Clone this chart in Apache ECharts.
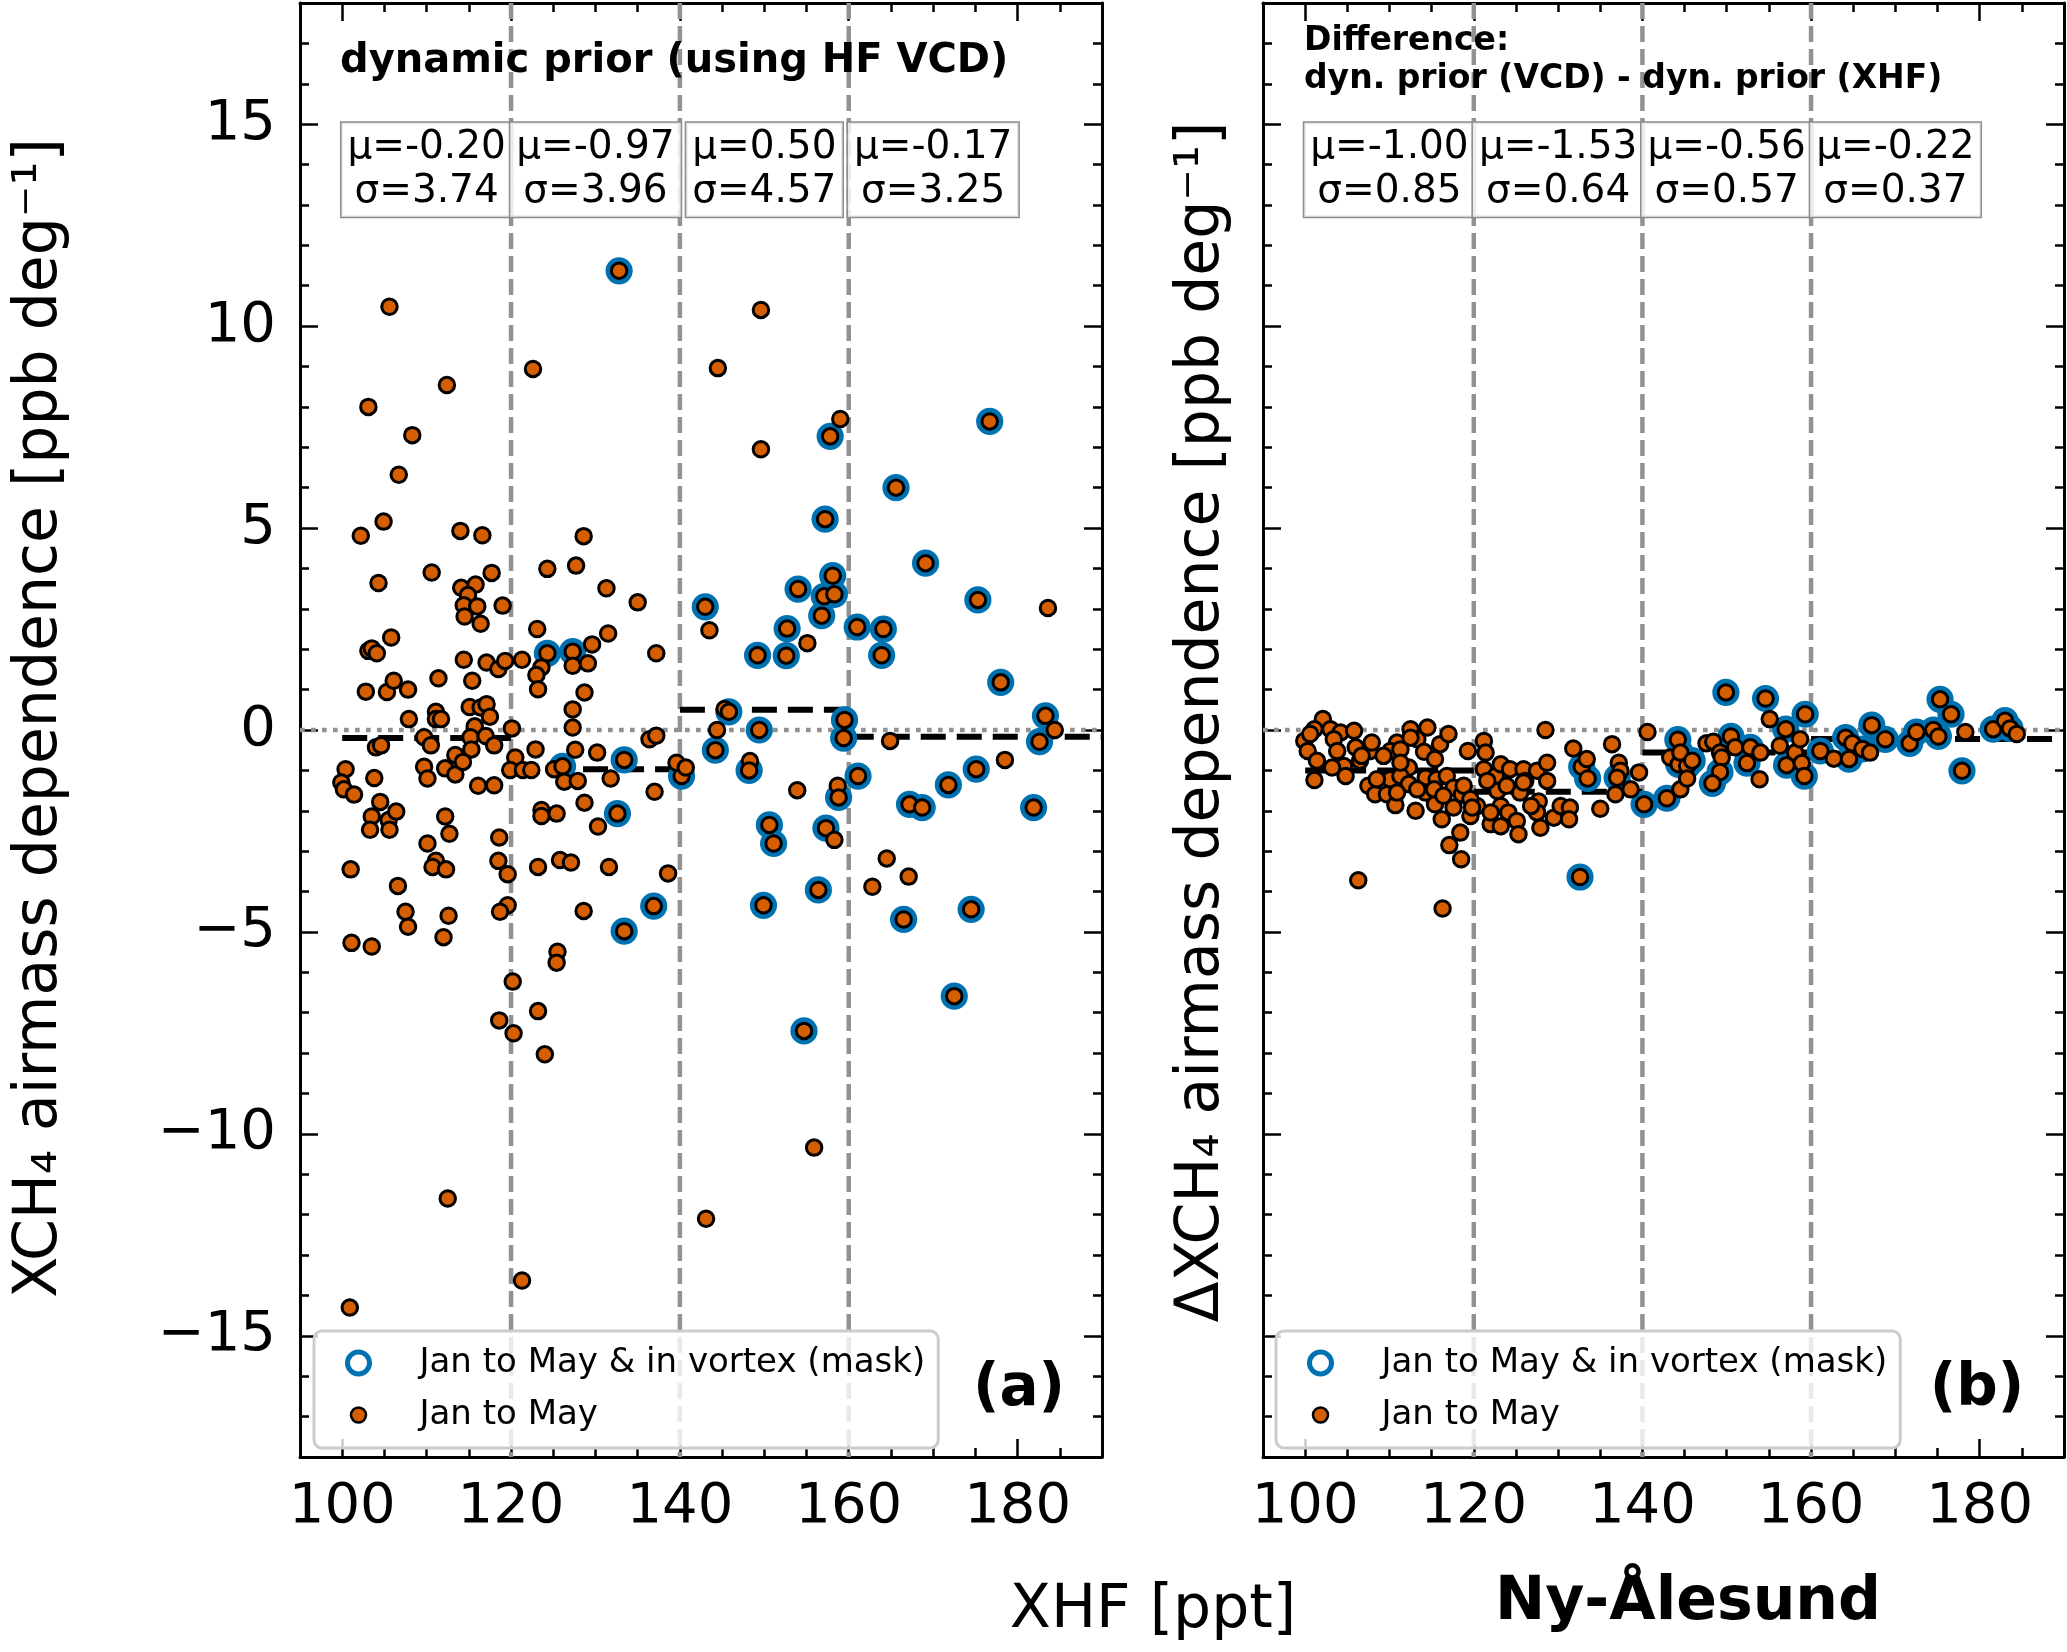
<!DOCTYPE html>
<html><head><meta charset="utf-8">
<script src="https://cdn.jsdelivr.net/npm/echarts@6/dist/echarts.min.js"></script>
<style>html,body{margin:0;padding:0;background:#fff}#c{width:2067px;height:1652px}</style>
</head><body><div id="c"></div>
<script>
// ---------------- data ----------------
const xMin = 95, xMax = 190, yMin = -18, yMax = 18;
const xMajorTicks = [100, 120, 140, 160, 180];
const yMajorTicks = [-15, -10, -5, 0, 5, 10, 15];
const binEdges = [100, 120, 140, 160, 190];
const binCenters = [110, 130, 150, 170];
const meanA = [-0.20, -0.97, 0.50, -0.17];
const sigmaA = [3.74, 3.96, 4.57, 3.25];
const meanB = [-1.00, -1.53, -0.56, -0.22];
const sigmaB = [0.85, 0.64, 0.57, 0.37];
const seriesNames = ['Jan to May & in vortex (mask)', 'Jan to May'];

// panel (a): [XHF, airmass dependence, in vortex (1) or not (0)]
const pointsA = [
[105.6,10.48,0],[132.8,11.37,1],[122.6,8.94,0],[112.4,8.54,0],[103.1,8.00,0],[108.3,7.30,0],[106.7,6.32,0],[104.9,5.16,0],[102.2,4.81,0],[114.0,4.93,0],[116.6,4.82,0],[128.6,4.80,0],[144.5,8.96,0],[110.6,3.90,0],[104.3,3.64,0],[117.7,3.89,0],[124.3,3.99,0],[127.7,4.07,0],[114.1,3.52,0],[115.8,3.60,0],[114.9,3.34,0],[114.4,3.09,0],[116.0,3.06,0],[114.5,2.81,0],[116.4,2.63,0],[119.0,3.08,0],[131.3,3.51,0],[135.0,3.16,0],[123.1,2.50,0],[131.5,2.39,0],[129.6,2.12,0],[105.8,2.29,0],[103.1,1.96,0],[103.5,2.02,0],[104.1,1.90,0],[137.2,1.90,0],[124.3,1.90,1],[127.3,1.94,1],
[114.4,1.74,0],[117.1,1.67,0],[118.5,1.51,0],[119.3,1.71,0],[121.3,1.74,0],[123.6,1.55,0],[123.0,1.36,0],[123.2,1.01,0],[127.3,1.59,0],[129.1,1.65,0],[102.8,0.95,0],[105.3,0.94,0],[106.1,1.22,0],[107.8,1.00,0],[111.4,1.28,0],[115.4,1.22,0],[107.9,0.27,0],[111.1,0.45,0],[111.1,0.27,0],[111.7,0.27,0],[115.1,0.57,0],[116.4,0.56,0],[117.1,0.64,0],[117.5,0.33,0],[115.7,0.09,0],[120.1,0.04,0],[115.2,-0.18,0],[115.3,-0.48,0],[117.0,-0.15,0],[118.0,-0.38,0],[109.7,-0.18,0],[110.5,-0.38,0],[104.0,-0.43,0],[104.6,-0.38,0],[122.9,-0.48,0],[127.3,0.06,0],[127.3,0.51,0],[128.7,0.93,0],[127.6,-0.49,0],[130.2,-0.56,0],[136.4,-0.23,0],[137.2,-0.14,0],[133.4,-0.74,1],[140.2,-1.14,1],[139.6,-0.81,0],[140.7,-0.93,0],[120.5,-0.68,0],[119.9,-0.99,0],[121.4,-0.99,0],[122.4,-0.99,0],[125.1,-0.97,0],[126.1,-0.90,1],[126.3,-1.28,0],[127.9,-1.26,0],[131.8,-1.20,0],[137.0,-1.53,0],[128.7,-1.80,0],[132.6,-2.07,1],[130.3,-2.39,0],[123.6,-1.98,0],[123.6,-2.13,0],[125.4,-2.07,0],[118.6,-2.66,0],[118.5,-3.24,0],[119.6,-3.57,0],[123.2,-3.39,0],[125.8,-3.22,0],[127.1,-3.28,0],[131.6,-3.39,0],[138.6,-3.55,0],[128.6,-4.48,0],[136.9,-4.36,1],[133.4,-4.98,1],[119.6,-4.34,0],[118.7,-4.50,0],[125.5,-5.49,0],[125.4,-5.76,0],[120.2,-6.23,0],[123.2,-6.96,0],[118.6,-7.19,0],[120.3,-7.51,0],[124.0,-8.03,0],[100.4,-0.97,0],[99.9,-1.30,0],[100.2,-1.47,0],[101.4,-1.60,0],[103.8,-1.19,0],[104.5,-1.78,0],[103.5,-2.14,0],[105.5,-2.23,0],[106.4,-2.02,0],[103.3,-2.47,0],[105.6,-2.47,0],[101.0,-3.45,0],[110.1,-2.81,0],[112.2,-2.14,0],[112.7,-2.57,0],[111.1,-3.24,0],[110.7,-3.39,0],[112.3,-3.45,0],[106.6,-3.86,0],[107.5,-4.50,0],[107.8,-4.87,0],[112.6,-4.60,0],[112.0,-5.13,0],[101.1,-5.27,0],[103.5,-5.36,0],[109.7,-0.91,0],[110.1,-1.20,0],[112.2,-0.95,0],[113.4,-1.10,0],[113.4,-0.62,0],[114.3,-0.79,0],[116.1,-1.38,0],[118.0,-1.37,0],
[149.6,10.40,0],[159.0,7.70,0],[157.8,7.27,1],[149.6,6.95,0],[176.7,7.64,1],[165.6,6.00,1],[157.2,5.22,1],[169.1,4.13,1],[158.1,3.82,1],[154.0,3.49,1],[157.1,3.31,1],[158.3,3.36,1],[156.8,2.83,1],[175.3,3.22,1],[183.6,3.02,0],[143.0,3.05,1],[143.5,2.47,0],[152.7,2.51,1],[155.1,2.15,0],[161.0,2.55,1],[164.1,2.50,1],[149.2,1.85,1],[152.6,1.84,1],[163.9,1.85,1],
[178.0,1.18,1],[145.3,0.52,0],[145.8,0.45,1],[144.4,0.00,0],[144.2,-0.50,1],[149.4,0.00,1],[159.5,0.25,1],[159.4,-0.20,1],[164.9,-0.27,0],[183.3,0.35,1],[184.4,0.00,0],[182.6,-0.29,1],[178.5,-0.74,0],[148.3,-0.77,0],[148.2,-1.00,1],[153.9,-1.49,0],[158.7,-1.38,0],[158.8,-1.67,1],[161.1,-1.14,1],[167.2,-1.84,1],[168.7,-1.92,1],[171.8,-1.36,1],[175.1,-0.97,1],[181.9,-1.92,1],[150.6,-2.35,1],[151.1,-2.81,1],[157.3,-2.43,1],[158.3,-2.72,0],[164.5,-3.18,0],[167.1,-3.63,0],[162.8,-3.88,0],[156.4,-3.96,1],[149.9,-4.34,1],[166.5,-4.69,1],[174.5,-4.44,1],[172.5,-6.59,1],[154.7,-7.45,1],
[155.9,-10.34,0],[112.5,-11.60,0],[143.1,-12.10,0],[121.3,-13.63,0],[100.9,-14.30,0]
];

// panel (b): [XHF, difference, in vortex (1) or not (0)]
const pointsB = [
[102.1,0.27,0],[101.1,0.02,0],[103.0,0.02,0],[104.2,-0.06,0],[105.8,-0.02,0],[99.9,-0.27,0],[100.3,-0.52,0],[101.4,-0.76,0],[101.1,-1.24,0],[103.4,-0.23,0],[103.8,-0.52,0],[104.6,-0.89,0],[104.8,-1.14,0],[106.0,-0.43,0],[106.5,-0.76,0],[107.7,-0.52,0],[107.9,-0.31,0],[107.5,-1.38,0],[108.3,-1.59,0],[109.7,-1.59,0],[110.7,-1.86,0],[110.1,-1.22,0],[110.9,-0.31,0],[110.1,-0.52,0],[111.3,-0.48,0],[112.5,0.02,0],[114.5,0.06,0],[113.3,-0.23,0],[112.5,-0.19,0],[114.1,-0.54,0],[115.4,-0.72,0],[116.0,-0.35,0],[117.0,-0.10,0],[112.3,-0.93,0],[111.3,-1.14,0],[112.3,-1.34,0],[114.3,-1.18,0],[115.6,-1.22,0],[114.3,-1.55,0],[115.4,-1.84,0],[116.8,-1.14,0],[117.6,-1.43,0],[118.6,-1.59,0],[118.8,-1.38,0],[117.6,-1.92,0],[116.2,-2.21,0],[118.4,-2.54,0],[117.1,-2.85,0],[118.5,-3.20,0],[119.6,-2.13,0],[120.4,-1.88,0],[121.2,-0.27,0],[121.4,-0.56,0],[119.3,-0.52,0],[121.2,-0.97,0],[122.6,-1.14,0],[123.2,-0.85,0],[124.3,-0.97,0],[125.9,-0.97,0],[127.5,-1.01,0],[128.7,-0.81,0],[128.7,-1.26,0],[126.1,-1.26,0],[125.5,-1.55,0],[122.8,-1.51,0],[123.9,-1.38,0],[123.2,-1.88,0],[124.1,-2.04,0],[122.0,-2.33,0],[123.2,-2.38,0],[125.1,-2.25,0],[125.3,-2.58,0],[127.7,-1.77,0],[127.5,-2.04,0],[127.9,-2.42,0],[129.5,-2.17,0],[130.3,-1.88,0],[131.4,-1.92,0],[131.3,-2.21,0],[128.5,0.00,0],[131.8,-0.46,0],[132.8,-0.91,1],[133.4,-0.72,0],[133.5,-1.20,1],[135.0,-1.95,0],[136.4,-0.35,0],[137.2,-0.81,0],[137.4,-1.01,0],[137.0,-1.18,1],[136.8,-1.59,0],[138.6,-1.47,0],[139.6,-1.05,0],[140.6,-0.05,0],[140.2,-1.84,1],[142.9,-1.69,1],[144.2,-0.24,1],[143.3,-0.68,0],[144.3,-0.85,1],[144.5,-1.47,0],[106.3,-3.72,0],[116.3,-4.42,0],[132.6,-3.64,1],
[100.6,-0.10,0],[103.2,-0.93,0],[106.7,-0.64,0],[109.3,-0.64,0],[111.3,-0.81,0],[113.3,-1.47,0],[115.3,-1.47,0],[116.4,-1.63,0],[119.6,-1.71,0],[119.8,-1.92,0],[122.0,-2.04,0],[125.9,-1.30,0],[126.8,-1.88,0],[121.6,-1.26,0],[113.1,-2.00,0],[110.9,-1.55,0],[108.5,-1.22,0],
[144.5,-0.56,1],[145.3,-0.89,1],[145.3,-1.20,0],[145.9,-0.76,1],[147.6,-0.33,0],[148.4,-0.29,0],[149.2,-0.56,0],[149.4,-0.68,0],[149.2,-1.04,1],[148.3,-1.32,1],[149.9,0.93,1],[150.5,-0.16,1],[151.0,-0.43,0],[152.4,-0.82,1],[152.8,-0.43,1],[153.9,-1.22,0],[154.0,-0.56,0],[154.6,0.78,1],[155.1,0.27,0],[156.3,-0.39,0],[157.0,0.02,1],[157.1,-0.87,1],[158.1,-0.56,0],[158.7,-0.23,0],[158.9,-0.82,0],[159.3,0.39,1],[159.2,-1.14,1],[161.1,-0.52,1],[162.7,-0.71,0],[164.1,-0.19,1],[164.5,-0.72,1],[164.9,-0.33,0],[166.1,-0.47,1],[167.0,-0.56,0],[167.2,0.12,1],[168.8,-0.23,1],[171.7,-0.33,1],[172.5,-0.05,1],[174.5,0.00,1],[175.1,-0.16,1],[175.3,0.76,1],[176.6,0.39,1],[177.9,-1.01,1],[178.3,-0.05,0],[181.6,0.02,1],[183.0,0.23,1],[183.6,0.04,1],[184.4,-0.10,0]
];

// ---------------- chart ----------------
const FONT = 'DejaVu Sans';
const ORANGE = '#D55E00', BLUE = '#0072B2', GREY = '#929292';
const statsY = 13.87;
const chart = echarts.init(document.getElementById('c'), null, {renderer: 'canvas', width: 2067, height: 1652});

function fmtNum(v) { v = Math.round(v); return v < 0 ? '\u2212' + Math.abs(v) : String(v); }

const grids = [
  {left: 300, top: 3, width: 802, height: 1454},
  {left: 1263, top: 3, width: 801, height: 1454}
];
const xAxes = [], yAxes = [];
[0, 1].forEach(gi => {
  ['bottom', 'top'].forEach(pos => {
    xAxes.push({gridIndex: gi, type: 'value', position: pos, min: xMin, max: xMax, interval: 5,
      axisLine: {show: true, onZero: false, lineStyle: {color: '#000', width: 3}},
      axisTick: {show: true, inside: true, length: 9, lineStyle: {color: '#000', width: 2.5}},
      axisLabel: {show: pos === 'bottom', formatter: v => xMajorTicks.includes(Math.round(v)) ? fmtNum(v) : '',
        fontSize: 56, fontFamily: FONT, color: '#000', margin: 22},
      splitLine: {show: false}});
    xAxes.push({gridIndex: gi, type: 'value', position: pos, min: xMin, max: xMax, interval: 5,
      axisLine: {show: false, onZero: false},
      axisTick: {show: true, inside: true, length: 18, customValues: xMajorTicks, lineStyle: {color: '#000', width: 2.5}},
      axisLabel: {show: false}, splitLine: {show: false}});
  });
  ['left', 'right'].forEach(pos => {
    yAxes.push({gridIndex: gi, type: 'value', position: pos, min: yMin, max: yMax, interval: 1,
      axisLine: {show: true, onZero: false, lineStyle: {color: '#000', width: 3}},
      axisTick: {show: true, inside: true, length: 9, lineStyle: {color: '#000', width: 2.5}},
      axisLabel: {show: pos === 'left' && gi === 0, formatter: v => yMajorTicks.includes(Math.round(v)) ? fmtNum(v) : '',
        fontSize: 56, fontFamily: FONT, color: '#000', margin: 24},
      splitLine: {show: false}});
    yAxes.push({gridIndex: gi, type: 'value', position: pos, min: yMin, max: yMax, interval: 1,
      axisLine: {show: false, onZero: false},
      axisTick: {show: true, inside: true, length: 18, customValues: yMajorTicks, lineStyle: {color: '#000', width: 2.5}},
      axisLabel: {show: false}, splitLine: {show: false}});
  });
});

const series = [];
const panels = [
  {pts: pointsA, mean: meanA, sigma: sigmaA},
  {pts: pointsB, mean: meanB, sigma: sigmaB}
];
panels.forEach((p, gi) => {
  const xi = gi * 4, yi = gi * 4;
  // reference lines (bin edges and zero)
  binEdges.slice(1, 4).forEach(e => {
    series.push({type: 'line', xAxisIndex: xi, yAxisIndex: yi, data: [[e, yMax], [e, yMin]],
      symbol: 'none', silent: true, z: 1, lineStyle: {color: GREY, width: 4.5, type: [16, 7]}});
  });
  series.push({type: 'line', xAxisIndex: xi, yAxisIndex: yi, data: [[xMin, 0], [xMax, 0]],
    symbol: 'none', silent: true, z: 1, lineStyle: {color: GREY, width: 4.7, type: [4.7, 6.3]}});
  // bin means (below the points)
  p.mean.forEach((m, i) => {
    series.push({type: 'line', xAxisIndex: xi, yAxisIndex: yi, z: 2, silent: true,
      data: [[binEdges[i], m], [binEdges[i + 1], m]], symbol: 'none',
      lineStyle: {color: '#000', width: 6, type: [25, 11]}});
  });
  // vortex rings
  series.push({type: 'scatter', name: seriesNames[0], xAxisIndex: xi, yAxisIndex: yi, z: 3,
    data: p.pts.filter(d => d[2] === 1).map(d => [d[0], d[1]]),
    symbol: 'circle', symbolSize: 22,
    itemStyle: {color: 'rgba(0,0,0,0)', borderColor: BLUE, borderWidth: 5.2, opacity: 1}});
  // all points
  series.push({type: 'scatter', name: seriesNames[1], xAxisIndex: xi, yAxisIndex: yi, z: 4,
    data: p.pts.map(d => [d[0], d[1]]),
    symbol: 'circle', symbolSize: 15.5,
    itemStyle: {color: ORANGE, borderColor: '#000', borderWidth: 3, opacity: 1}});
  // stats boxes
  series.push({type: 'scatter', xAxisIndex: xi, yAxisIndex: yi, z: 6, silent: true,
    data: binCenters.map(c => [c, statsY]), symbolSize: 1,
    itemStyle: {color: 'rgba(0,0,0,0)'},
    label: {show: true, position: 'inside', opacity: 1, textBorderWidth: 0,
      formatter: q => '\u03bc=' + p.mean[q.dataIndex].toFixed(2) + '\n\u03c3=' + p.sigma[q.dataIndex].toFixed(2),
      fontSize: 39, lineHeight: 44, fontFamily: FONT, color: '#000', align: 'center',
      backgroundColor: 'rgba(255,255,255,0.8)', borderColor: '#8c8c8c', borderWidth: 1.5, padding: [4, 6, 2, 6]}});
});

const legends = [314, 1276].map(l => ({
  orient: 'vertical', left: l, top: 1331, padding: [15, 13, 16, 31], itemGap: 18,
  itemWidth: 22, itemHeight: 22, selectedMode: false,
  backgroundColor: 'rgba(255,255,255,0.8)', borderColor: '#cccccc', borderWidth: 3, borderRadius: 8,
  formatter: n => '{g|}' + n,
  textStyle: {fontSize: 34, fontFamily: FONT, color: '#000', rich: {g: {width: 45}}},
  data: [
    {name: seriesNames[0], icon: 'circle', itemStyle: {color: 'rgba(0,0,0,0)', borderColor: BLUE, borderWidth: 5}},
    {name: seriesNames[1], icon: 'path://M0,0M22,22M3.5,11A7.5,7.5,0,1,0,18.5,11A7.5,7.5,0,1,0,3.5,11Z',
      itemStyle: {color: ORANGE, borderColor: '#000', borderWidth: 2.5}}
  ]
}));

function txt(x, y, text, size, weight, extra) {
  return Object.assign({type: 'text', x: x, y: y, silent: true, z: 10,
    style: {text: text, fontSize: size, fontWeight: weight, fontFamily: FONT, fill: '#000',
      align: 'center', verticalAlign: 'middle'}}, extra || {});
}
const graphic = [
  txt(40, 718, 'XCH\u2084 airmass dependence [ppb deg\u207b\u00b9]', 60, 'normal', {rotation: Math.PI / 2}),
  txt(1202, 722, '\u0394XCH\u2084 airmass dependence [ppb deg\u207b\u00b9]', 60, 'normal', {rotation: Math.PI / 2}),
  txt(1153, 1611, 'XHF [ppt]', 60, 'normal'),
  txt(1688, 1603, 'Ny-\u00c5lesund', 60, 'bold'),
  txt(1019, 1390, '(a)', 58, 'bold'),
  txt(1977, 1390, '(b)', 58, 'bold'),
  {type: 'text', x: 340, y: 62, silent: true, z: 10,
    style: {text: 'dynamic prior (using HF VCD)', fontSize: 40, fontWeight: 'bold', fontFamily: FONT, fill: '#000', align: 'left', verticalAlign: 'middle'}},
  {type: 'text', x: 1304, y: 41, silent: true, z: 10,
    style: {text: 'Difference:', fontSize: 33, fontWeight: 'bold', fontFamily: FONT, fill: '#000', align: 'left', verticalAlign: 'middle'}},
  {type: 'text', x: 1304, y: 79, silent: true, z: 10,
    style: {text: 'dyn. prior (VCD) - dyn. prior (XHF)', fontSize: 33, fontWeight: 'bold', fontFamily: FONT, fill: '#000', align: 'left', verticalAlign: 'middle'}}
];

chart.setOption({
  animation: false,
  backgroundColor: '#fff',
  grid: grids,
  xAxis: xAxes,
  yAxis: yAxes,
  legend: legends,
  series: series,
  graphic: graphic
});
</script>
</body></html>
